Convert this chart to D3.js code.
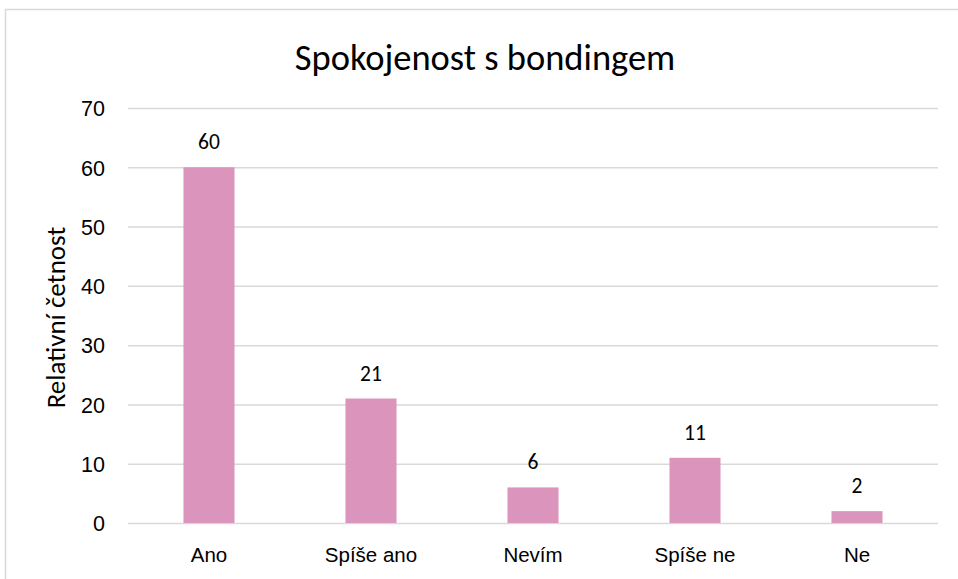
<!DOCTYPE html>
<html>
<head>
<meta charset="utf-8">
<script src="https://cdn.jsdelivr.net/npm/d3@7"></script>
<style>
	html, body { margin: 0; padding: 0; background: #fff; }
	svg { display: block; font-family: Carlito, Calibri, Lato, sans-serif; }
</style>
</head>
<body>
<div id="chartWrapper"></div>
<script>
// chart data
const categories = ['Ano', 'Spíše ano', 'Nevím', 'Spíše ne', 'Ne'];
const values = [60, 21, 6, 11, 2];
const yTicks = [0, 10, 20, 30, 40, 50, 60, 70];
const chartTitle = 'Spokojenost s bondingem';
const yTitle = 'Relativní četnost';

let chartVars = {
	width: 958,
	height: 579,
	margin: { left: 128, right: 20, top: 108, bottom: 56 },
	barColor: '#db94bc',
	gridColor: '#d9d9d9',
	textColor: '#000'
}

function makeScales(w, h){
	const xScale = d3.scaleBand()
		.domain(categories)
		.range([0, w])
		.paddingInner(0.685)
		.paddingOuter(0.3425);
	const yScale = d3.scaleLinear()
		.domain([0, 70])
		.range([h, 0]);
	return { xScale, yScale };
}

function buildChart(obj){
	const m = obj.margin;
	const w = obj.width - m.left - m.right;
	const h = obj.height - m.top - m.bottom;

	const svg = d3.select('#chartWrapper').append('svg')
		.attr('width', obj.width)
		.attr('height', obj.height);

	// outer chart border (cropped on right and bottom)
	svg.append('rect')
		.attr('x', 5.5)
		.attr('y', 9.5)
		.attr('width', obj.width + 20)
		.attr('height', obj.height + 20)
		.attr('fill', 'none')
		.attr('stroke', obj.gridColor)
		.attr('stroke-width', 1.5);

	const { xScale, yScale } = makeScales(w, h);
	const g = svg.append('g').attr('transform', `translate(${m.left},${m.top})`);

	// y axis: gridlines + labels
	const yAxis = d3.axisLeft(yScale)
		.tickValues(yTicks)
		.tickSize(-w)
		.tickPadding(23);
	const yG = g.append('g').call(yAxis);
	yG.select('.domain').remove();
	yG.selectAll('line')
		.attr('stroke', obj.gridColor)
		.attr('stroke-width', 1.5);
	yG.selectAll('text')
		.attr('fill', obj.textColor)
		.style('font-size', '21.5px')
		.attr('dy', '0.36em');

	// x axis labels
	const xAxis = d3.axisBottom(xScale).tickSize(0).tickPadding(24);
	const xG = g.append('g').attr('transform', `translate(0,${h})`).call(xAxis);
	xG.select('.domain').remove();
	xG.selectAll('text')
		.attr('fill', obj.textColor)
		.style('font-size', '20.5px');

	// bars
	g.selectAll('.bar')
		.data(values)
		.enter()
		.append('rect')
		.attr('class', 'bar')
		.attr('x', (d, i) => xScale(categories[i]))
		.attr('y', d => yScale(d))
		.attr('width', xScale.bandwidth())
		.attr('height', d => h - yScale(d))
		.attr('fill', obj.barColor);

	// value labels
	g.selectAll('.valLabel')
		.data(values)
		.enter()
		.append('text')
		.attr('class', 'valLabel')
		.attr('x', (d, i) => xScale(categories[i]) + xScale.bandwidth() / 2)
		.attr('y', d => yScale(d) - 18)
		.attr('text-anchor', 'middle')
		.attr('fill', obj.textColor)
		.style('font-size', '21.5px')
		.text(d => d);

	// y axis title
	svg.append('text')
		.attr('transform', `translate(65,${m.top + h / 2 + 2}) rotate(-90)`)
		.attr('text-anchor', 'middle')
		.attr('fill', obj.textColor)
		.style('font-size', '27px')
		.text(yTitle);

	// chart title
	svg.append('text')
		.attr('x', 485)
		.attr('y', 70)
		.attr('text-anchor', 'middle')
		.attr('fill', obj.textColor)
		.style('font-size', '36.5px')
		.text(chartTitle);
}

buildChart(chartVars);
</script>
</body>
</html>
